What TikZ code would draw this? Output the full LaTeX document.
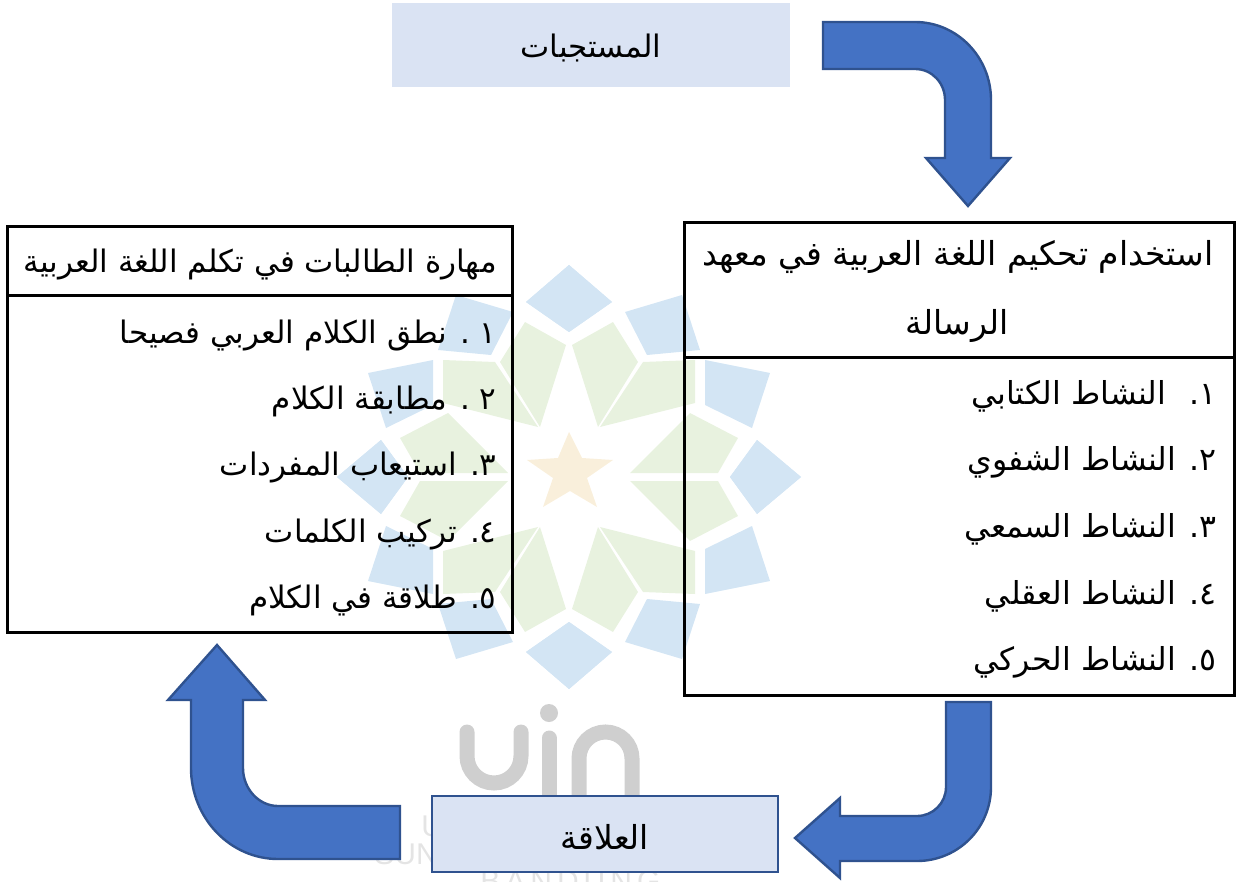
\documentclass[tikz,border=0pt]{standalone}
\usepackage{fontspec}
\TeXXeTstate=1
\newfontfamily\arabicfont[Script=Arabic]{DejaVu Sans}
\newfontfamily\wmfont{Liberation Sans}
\newcommand{\artxt}[1]{{\arabicfont\beginR #1\endR}}
\definecolor{wmblue}{HTML}{D3E5F4}
\definecolor{wmgreen}{HTML}{E8F2DF}
\definecolor{wmtan}{HTML}{F9EFDB}
\definecolor{wmgrey}{HTML}{CFCFCF}
\definecolor{wmtext}{HTML}{E4E4E4}
\definecolor{arrowfill}{HTML}{4472C4}
\definecolor{arrowline}{HTML}{2F528F}
\definecolor{boxfill}{HTML}{DAE3F3}
\tikzset{
  bigarrow/.style={fill=arrowfill,draw=arrowline,line width=1.2pt,line join=miter},
  framebox/.style={draw=black,line width=1.5pt},
  rowtext/.style={anchor=base east,inner sep=0pt,font=\fontsize{15.5}{18}\selectfont},
  rowtextb/.style={anchor=base east,inner sep=0pt,font=\fontsize{15.8}{19}\selectfont},
  midtext/.style={anchor=base,inner sep=0pt,font=\fontsize{16.5}{19}\selectfont},
  wmpieceb/.style={fill=wmblue,draw=none},
  wmpieceg/.style={fill=wmgreen,draw=none},
  wmletter/.style={draw=wmgrey,line width=7.5pt,line cap=round},
  wmword/.style={anchor=base west,inner sep=0pt,text=wmtext,font=\wmfont\fontsize{15}{18}\selectfont}
}
\begin{document}
\begin{tikzpicture}[x=0.5pt,y=-0.5pt]
\useasboundingbox (0,0) rectangle (1236,882);
\clip (0,0) rectangle (1236,882);
% watermark
\foreach \sx/\sy in {1/1,-1/1,1/-1,-1/-1}{
  \begin{scope}[shift={(569,477)},xscale=\sx,yscale=\sy]
    \fill[wmpieceb] (56,-165) -- (113,-182) -- (131,-127) -- (78,-122) -- cycle;
    \fill[wmpieceb] (136,-117) -- (201,-104) -- (183,-49) -- (136,-72) -- cycle;
    \fill[wmpieceg] (3,-132) -- (44,-155) -- (69,-115) -- (29,-50) -- cycle;
    \fill[wmpieceg] (74,-115) -- (126,-117) -- (126,-74) -- (31,-50) -- cycle;
    \fill[wmpieceg] (61,-4) -- (121,-64) -- (169,-39) -- (149,-4) -- cycle;
    \fill[wmpieceb] (-43,-175) -- (0,-212) -- (43,-175) -- (0,-145) -- cycle;
    \fill[wmpieceb] (161,0) -- (188,-37) -- (232,0) -- (188,37) -- cycle;
  \end{scope}
}
\fill[wmtan] (569,432) -- (582,458) -- (613,460) -- (587,478) -- (597,507) -- (570,491) -- (543,507) -- (553,478) -- (527,460) -- (558,458) -- cycle;
\draw[wmletter] (467,732) -- (467,756) arc[start angle=180,end angle=0,radius=27] -- (521,732);
\fill[wmgrey] (549,713) circle[radius=9];
\draw[wmletter] (549,738) -- (549,800);
\draw[wmletter] (579,800) -- (579,758.5) arc[start angle=180,end angle=360,radius=26.5] -- (632,800);
\node[wmword] (wmu) at (421,836) {U};
\node[wmword] (wmsun) at (374,864) {SUN};
\node[wmword] (wmband) at (480,891) {B\,A\,N\,D\,U\,N\,G};
% boxes
\fill[boxfill] (392,3) rectangle (790,87);
\coordinate (topc) at (591,58);
\node[midtext,font=\fontsize{15.5}{18}\selectfont] (stimuli) at (topc) {\artxt{المستجبات}};
\draw[framebox] (7,227) rectangle (512,632);
\draw[framebox] (7,295) -- (512,295);
\node[rowtext] (lt) at (497,272) {\artxt{مهارة الطالبات في تكلم اللغة العربية}};
\node[rowtext] (l1) at (497,343) {\artxt{١ . نطق الكلام العربي فصيحا}};
\node[rowtext] (l2) at (497,409) {\artxt{٢ . مطابقة الكلام}};
\node[rowtext] (l3) at (497,475) {\artxt{٣. استيعاب المفردات}};
\node[rowtext] (l4) at (497,542) {\artxt{٤. تركيب الكلمات}};
\node[rowtext] (l5) at (497,608) {\artxt{٥. طلاقة في الكلام}};
\draw[framebox] (684,223) rectangle (1234,695);
\draw[framebox] (684,357) -- (1234,357);
\node[midtext] (rt1) at (958,265) {\artxt{استخدام تحكيم اللغة العربية في معهد}};
\node[midtext] (rt2) at (957,334) {\artxt{الرسالة}};
\node[rowtextb] (r1) at (1217,404) {\artxt{١.\hspace{5pt} النشاط الكتابي}};
\node[rowtextb] (r2) at (1217,470) {\artxt{٢. النشاط الشفوي}};
\node[rowtextb] (r3) at (1217,537) {\artxt{٣. النشاط السمعي}};
\node[rowtextb] (r4) at (1217,604) {\artxt{٤. النشاط العقلي}};
\node[rowtextb] (r5) at (1217,670) {\artxt{٥. النشاط الحركي}};
\draw[fill=boxfill,draw=arrowline,line width=1.4pt] (432,796) rectangle (778,872);
\node[midtext] (rel) at (605,849) {\artxt{العلاقة}};
% arrows
\draw[bigarrow] (823,22) -- (915,22) .. controls (957,22) and (991,57) .. (991,100) -- (991,158) -- (1010,158) -- (968,206) -- (926,158) -- (945,158) -- (945,100) .. controls (945,83) and (932,69) .. (915,69) -- (823,69) -- cycle;
\draw[bigarrow] (946,702) -- (991,702) -- (991,787) .. controls (991,828) and (958,861) .. (917,861) -- (840,861) -- (840,878) -- (795,838) -- (840,798) -- (840,816) -- (917,816) .. controls (933,816) and (946,803) .. (946,787) -- cycle;
\draw[bigarrow] (400,806) -- (400,859) -- (278,859) .. controls (230,859) and (191,818) .. (191,768) -- (191,700) -- (168,700) -- (217,645) -- (265,700) -- (243,700) -- (243,768) .. controls (243,789) and (259,806) .. (278,806) -- cycle;
\end{tikzpicture}
\end{document}
